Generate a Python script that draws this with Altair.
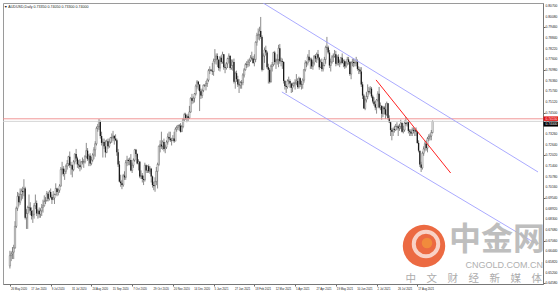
import altair as alt
import pandas as pd

# ---------------- data ----------------
x_labels = ["26 May 2020", "17 Jun 2020", "9 Jul 2020", "31 Jul 2020", "24 Aug 2020",
            "15 Sep 2020", "7 Oct 2020", "29 Oct 2020", "20 Nov 2020", "14 Dec 2020",
            "5 Jan 2021", "27 Jan 2021", "18 Feb 2021", "12 Mar 2021", "5 Apr 2021",
            "27 Apr 2021", "19 May 2021", "10 Jun 2021", "2 Jul 2021", "26 Jul 2021",
            "17 Aug 2021"]
bars_per_label = 16

price_ticks = [0.8070, 0.8008, 0.7946, 0.7884, 0.7822, 0.7760, 0.7698, 0.7636, 0.7574,
               0.7512, 0.7450, 0.7388, 0.7326, 0.7264, 0.7202, 0.7140, 0.7078, 0.7016,
               0.6954, 0.6892, 0.6830, 0.6768, 0.6706, 0.6644, 0.6582, 0.6520, 0.6458]

first_open = 0.6560
closes = [
    0.6620, 0.6630, 0.6640, 0.6665,
    0.6790, 0.6895, 0.6965, 0.6930, 0.6975,
    0.6995, 0.6990, 0.7010, 0.6840, 0.6865,
    0.6900, 0.6900, 0.6880, 0.6850, 0.6860,
    0.6910, 0.6925, 0.6865, 0.6880, 0.6860,
    0.6880, 0.6900, 0.6910, 0.6935, 0.6940,
    0.6980, 0.6950, 0.6990, 0.6960, 0.6945,
    0.6955, 0.6975, 0.7010, 0.6990, 0.7000,
    0.7025, 0.7120, 0.7125, 0.7095, 0.7110,
    0.7140, 0.7155, 0.7195, 0.7145, 0.7145,
    0.7120, 0.7165, 0.7210, 0.7185, 0.7150,
    0.7145, 0.7135, 0.7165, 0.7165, 0.7165,
    0.7195, 0.7230, 0.7180, 0.7200, 0.7155,
    0.7175, 0.7205, 0.7235, 0.7270, 0.7360,
    0.7370, 0.7400, 0.7315, 0.7275, 0.7280,
    0.7255, 0.7220, 0.7285, 0.7255, 0.7280,
    0.7305, 0.7305, 0.7315, 0.7300, 0.7290,
    0.7220, 0.7150, 0.7050, 0.7040, 0.7030,
    0.7085, 0.7075, 0.7160, 0.7175, 0.7170,
    0.7175, 0.7115, 0.7145, 0.7175, 0.7235,
    0.7210, 0.7155, 0.7165, 0.7080, 0.7085,
    0.7065, 0.7060, 0.7145, 0.7115, 0.7140,
    0.7110, 0.7125, 0.7080, 0.7030, 0.7025,
    0.7050, 0.7110, 0.7150, 0.7255, 0.7265,
    0.7255, 0.7280, 0.7240, 0.7250, 0.7280,
    0.7310, 0.7300, 0.7290, 0.7290, 0.7300,
    0.7285, 0.7355, 0.7365, 0.7375, 0.7375,
    0.7340, 0.7370, 0.7410, 0.7440, 0.7420,
    0.7430, 0.7420, 0.7455, 0.7535, 0.7520,
    0.7535, 0.7560, 0.7605, 0.7630, 0.7615,
    0.7575, 0.7550, 0.7580, 0.7610, 0.7610,
    0.7620, 0.7640, 0.7695, 0.7700, 0.7695,
    0.7690, 0.7750, 0.7760, 0.7780, 0.7760,
    0.7710, 0.7770, 0.7745, 0.7790, 0.7715,
    0.7710, 0.7735, 0.7765, 0.7780, 0.7710,
    0.7725, 0.7745, 0.7630, 0.7680, 0.7645,
    0.7615, 0.7610, 0.7625, 0.7625, 0.7670,
    0.7700, 0.7730, 0.7730, 0.7745, 0.7755,
    0.7770, 0.7765, 0.7740, 0.7760, 0.7860,
    0.7900, 0.7905, 0.7925, 0.7890, 0.7700,
    0.7780, 0.7815, 0.7800, 0.7715, 0.7700,
    0.7630, 0.7720, 0.7730, 0.7800, 0.7745,
    0.7755, 0.7760, 0.7825, 0.7750, 0.7750,
    0.7745, 0.7635, 0.7605, 0.7600, 0.7635,
    0.7635, 0.7620, 0.7595, 0.7610, 0.7620,
    0.7625, 0.7635, 0.7600, 0.7650, 0.7615,
    0.7615, 0.7640, 0.7700, 0.7740, 0.7740,
    0.7775, 0.7755, 0.7760, 0.7720, 0.7740,
    0.7780, 0.7765, 0.7790, 0.7770, 0.7715,
    0.7745, 0.7705, 0.7725, 0.7760, 0.7830,
    0.7830, 0.7800, 0.7725, 0.7745, 0.7775,
    0.7780, 0.7790, 0.7735, 0.7775, 0.7740,
    0.7745, 0.7770, 0.7740, 0.7750, 0.7720,
    0.7740, 0.7760, 0.7745, 0.7675, 0.7740,
    0.7745, 0.7740, 0.7740, 0.7745, 0.7705,
    0.7700, 0.7690, 0.7615, 0.7550, 0.7475,
    0.7525, 0.7545, 0.7575, 0.7570, 0.7590,
    0.7545, 0.7515, 0.7500, 0.7480, 0.7525,
    0.7560, 0.7480, 0.7490, 0.7445, 0.7480,
    0.7470, 0.7440, 0.7505, 0.7420, 0.7395,
    0.7350, 0.7340, 0.7355, 0.7350, 0.7370,
    0.7370, 0.7360, 0.7370, 0.7390, 0.7340,
    0.7350, 0.7390, 0.7385, 0.7395, 0.7345,
    0.7340, 0.7330, 0.7350, 0.7345, 0.7350,
    0.7340, 0.7275, 0.7230, 0.7150, 0.7130,
    0.7215, 0.7240, 0.7270, 0.7245, 0.7300,
    0.7310, 0.7315, 0.7335, 0.7400,
]
highs = [
    0.6648, 0.6645, 0.6670, 0.6683,
    0.6820, 0.6905, 0.6990, 0.6985, 0.7010,
    0.7010, 0.7020, 0.7064, 0.7020, 0.6890,
    0.6910, 0.6975, 0.6930, 0.6900, 0.6885,
    0.6925, 0.6975, 0.6940, 0.6890, 0.6900,
    0.6895, 0.6920, 0.6945, 0.6970, 0.6960,
    0.6995, 0.6990, 0.7000, 0.7010, 0.6975,
    0.6995, 0.6980, 0.7040, 0.7015, 0.7010,
    0.7035, 0.7135, 0.7165, 0.7140, 0.7125,
    0.7150, 0.7175, 0.7200, 0.7225, 0.7165,
    0.7150, 0.7175, 0.7215, 0.7240, 0.7195,
    0.7175, 0.7180, 0.7170, 0.7190, 0.7180,
    0.7205, 0.7275, 0.7245, 0.7210, 0.7215,
    0.7195, 0.7215, 0.7250, 0.7285, 0.7370,
    0.7385, 0.7414, 0.7405, 0.7340, 0.7300,
    0.7300, 0.7290, 0.7295, 0.7300, 0.7300,
    0.7310, 0.7330, 0.7345, 0.7320, 0.7325,
    0.7300, 0.7240, 0.7170, 0.7090, 0.7060,
    0.7095, 0.7110, 0.7175, 0.7200, 0.7185,
    0.7190, 0.7210, 0.7160, 0.7185, 0.7240,
    0.7240, 0.7215, 0.7180, 0.7170, 0.7115,
    0.7100, 0.7085, 0.7160, 0.7150, 0.7145,
    0.7150, 0.7140, 0.7130, 0.7085, 0.7050,
    0.7075, 0.7135, 0.7160, 0.7260, 0.7290,
    0.7340, 0.7290, 0.7300, 0.7265, 0.7290,
    0.7330, 0.7340, 0.7340, 0.7305, 0.7320,
    0.7340, 0.7365, 0.7375, 0.7380, 0.7385,
    0.7390, 0.7380, 0.7420, 0.7450, 0.7450,
    0.7440, 0.7445, 0.7490, 0.7540, 0.7560,
    0.7545, 0.7565, 0.7615, 0.7640, 0.7635,
    0.7600, 0.7590, 0.7590, 0.7615, 0.7615,
    0.7635, 0.7650, 0.7705, 0.7720, 0.7705,
    0.7740, 0.7765, 0.7820, 0.7795, 0.7795,
    0.7745, 0.7780, 0.7785, 0.7805, 0.7790,
    0.7730, 0.7745, 0.7770, 0.7795, 0.7785,
    0.7760, 0.7760, 0.7765, 0.7690, 0.7695,
    0.7665, 0.7645, 0.7635, 0.7640, 0.7680,
    0.7710, 0.7740, 0.7750, 0.7760, 0.7765,
    0.7785, 0.7805, 0.7780, 0.7790, 0.7865,
    0.7915, 0.7940, 0.7950, 0.8007, 0.7900,
    0.7795, 0.7830, 0.7840, 0.7810, 0.7735,
    0.7710, 0.7730, 0.7745, 0.7805, 0.7810,
    0.7765, 0.7790, 0.7845, 0.7850, 0.7770,
    0.7765, 0.7750, 0.7640, 0.7615, 0.7645,
    0.7660, 0.7645, 0.7625, 0.7625, 0.7630,
    0.7645, 0.7675, 0.7650, 0.7660, 0.7655,
    0.7635, 0.7650, 0.7705, 0.7755, 0.7750,
    0.7790, 0.7815, 0.7770, 0.7770, 0.7755,
    0.7785, 0.7790, 0.7800, 0.7815, 0.7775,
    0.7760, 0.7765, 0.7740, 0.7775, 0.7840,
    0.7891, 0.7840, 0.7815, 0.7765, 0.7785,
    0.7795, 0.7815, 0.7810, 0.7785, 0.7790,
    0.7760, 0.7775, 0.7795, 0.7760, 0.7760,
    0.7750, 0.7775, 0.7775, 0.7750, 0.7750,
    0.7765, 0.7765, 0.7760, 0.7775, 0.7760,
    0.7720, 0.7715, 0.7715, 0.7630, 0.7560,
    0.7535, 0.7570, 0.7615, 0.7600, 0.7605,
    0.7600, 0.7555, 0.7540, 0.7520, 0.7530,
    0.7575, 0.7600, 0.7510, 0.7495, 0.7490,
    0.7490, 0.7505, 0.7515, 0.7505, 0.7435,
    0.7400, 0.7360, 0.7365, 0.7375, 0.7385,
    0.7395, 0.7380, 0.7385, 0.7410, 0.7395,
    0.7375, 0.7405, 0.7425, 0.7400, 0.7405,
    0.7355, 0.7355, 0.7365, 0.7365, 0.7360,
    0.7365, 0.7345, 0.7290, 0.7230, 0.7165,
    0.7225, 0.7255, 0.7285, 0.7290, 0.7310,
    0.7325, 0.7330, 0.7350, 0.7405,
]
lows = [
    0.6545, 0.6588, 0.6600, 0.6600,
    0.6660, 0.6780, 0.6880, 0.6905, 0.6915,
    0.6940, 0.6950, 0.6965, 0.6830, 0.6775,
    0.6775, 0.6870, 0.6855, 0.6830, 0.6810,
    0.6835, 0.6890, 0.6850, 0.6835, 0.6840,
    0.6840, 0.6850, 0.6870, 0.6905, 0.6920,
    0.6935, 0.6935, 0.6940, 0.6955, 0.6920,
    0.6945, 0.6920, 0.6970, 0.6965, 0.6970,
    0.6985, 0.7020, 0.7090, 0.7080, 0.7060,
    0.7095, 0.7120, 0.7140, 0.7130, 0.7090,
    0.7075, 0.7110, 0.7150, 0.7170, 0.7130,
    0.7125, 0.7110, 0.7120, 0.7150, 0.7130,
    0.7155, 0.7185, 0.7170, 0.7140, 0.7140,
    0.7145, 0.7165, 0.7180, 0.7195, 0.7260,
    0.7340, 0.7350, 0.7300, 0.7260, 0.7190,
    0.7240, 0.7190, 0.7215, 0.7240, 0.7245,
    0.7270, 0.7275, 0.7285, 0.7265, 0.7285,
    0.7200, 0.7135, 0.7045, 0.7020, 0.7006,
    0.7020, 0.7060, 0.7060, 0.7140, 0.7145,
    0.7145, 0.7110, 0.7100, 0.7130, 0.7165,
    0.7195, 0.7150, 0.7115, 0.7070, 0.7065,
    0.7045, 0.7030, 0.7050, 0.7100, 0.7100,
    0.7100, 0.7095, 0.7045, 0.7015, 0.7000,
    0.6991, 0.7030, 0.7010, 0.7140, 0.7220,
    0.7240, 0.7235, 0.7225, 0.7215, 0.7240,
    0.7265, 0.7290, 0.7280, 0.7260, 0.7285,
    0.7275, 0.7290, 0.7340, 0.7350, 0.7345,
    0.7335, 0.7340, 0.7360, 0.7400, 0.7410,
    0.7395, 0.7400, 0.7415, 0.7450, 0.7500,
    0.7505, 0.7510, 0.7550, 0.7590, 0.7580,
    0.7460, 0.7530, 0.7535, 0.7570, 0.7600,
    0.7580, 0.7600, 0.7630, 0.7675, 0.7690,
    0.7670, 0.7665, 0.7735, 0.7730, 0.7715,
    0.7695, 0.7690, 0.7735, 0.7735, 0.7700,
    0.7680, 0.7700, 0.7710, 0.7740, 0.7700,
    0.7700, 0.7695, 0.7620, 0.7590, 0.7630,
    0.7600, 0.7565, 0.7590, 0.7590, 0.7610,
    0.7655, 0.7695, 0.7710, 0.7715, 0.7720,
    0.7745, 0.7755, 0.7735, 0.7720, 0.7745,
    0.7840, 0.7875, 0.7870, 0.7880, 0.7690,
    0.7700, 0.7740, 0.7785, 0.7705, 0.7620,
    0.7620, 0.7625, 0.7690, 0.7720, 0.7730,
    0.7705, 0.7730, 0.7715, 0.7735, 0.7720,
    0.7705, 0.7620, 0.7585, 0.7565, 0.7590,
    0.7615, 0.7595, 0.7565, 0.7570, 0.7600,
    0.7585, 0.7610, 0.7590, 0.7590, 0.7600,
    0.7585, 0.7590, 0.7625, 0.7690, 0.7715,
    0.7725, 0.7745, 0.7705, 0.7705, 0.7700,
    0.7725, 0.7745, 0.7740, 0.7755, 0.7700,
    0.7710, 0.7690, 0.7690, 0.7720, 0.7735,
    0.7815, 0.7790, 0.7710, 0.7690, 0.7735,
    0.7745, 0.7770, 0.7720, 0.7725, 0.7725,
    0.7715, 0.7730, 0.7735, 0.7715, 0.7705,
    0.7710, 0.7725, 0.7730, 0.7665, 0.7645,
    0.7720, 0.7715, 0.7720, 0.7720, 0.7695,
    0.7675, 0.7675, 0.7600, 0.7530, 0.7475,
    0.7465, 0.7510, 0.7530, 0.7555, 0.7560,
    0.7535, 0.7505, 0.7490, 0.7465, 0.7445,
    0.7515, 0.7475, 0.7465, 0.7410, 0.7425,
    0.7440, 0.7415, 0.7430, 0.7410, 0.7390,
    0.7315, 0.7290, 0.7315, 0.7335, 0.7345,
    0.7350, 0.7315, 0.7345, 0.7355, 0.7335,
    0.7330, 0.7340, 0.7375, 0.7370, 0.7330,
    0.7315, 0.7315, 0.7315, 0.7330, 0.7315,
    0.7315, 0.7270, 0.7220, 0.7135, 0.7106,
    0.7120, 0.7200, 0.7225, 0.7230, 0.7220,
    0.7285, 0.7290, 0.7290, 0.7330,
]

# drawn objects (bar index, price)
upper_channel_i = [198.9, 414.8]
upper_channel_p = [0.8088, 0.7106]
lower_channel_i = [213.6, 412.5]
lower_channel_p = [0.7571, 0.6693]
red_trend_i = [287.6, 346.2]
red_trend_p = [0.7641, 0.7100]
hline_level = 0.7415
bid_level = 0.7400

title_text = "AUDUSD,Daily  0.73350 0.74050 0.73300 0.74000"

# ---------------- chart ----------------
n = len(closes)
opens = [first_open] + closes[:-1]
df = pd.DataFrame({"i": list(range(n)), "o": opens, "c": closes, "h": highs, "l": lows})
up = df[df["c"] >= df["o"]]
dn = df[df["c"] < df["o"]]

W, H = 540, 281
xs = alt.Scale(domain=[-1.5, 414.8], nice=False, zero=False)
ys = alt.Scale(domain=[0.6455, 0.8088], nice=False, zero=False)

xtick_df = pd.DataFrame({"i": [k * bars_per_label for k in range(len(x_labels))], "lab": x_labels})
ytick_df = pd.DataFrame({"p": price_ticks, "lab": ["%.5f" % v for v in price_ticks]})

xaxis = alt.Axis(values=list(xtick_df["i"]), labels=False, tickSize=2, tickColor="#666",
                 domainColor="#777", grid=False, title=None)
yaxis = alt.Axis(orient="right", values=price_ticks, labels=False, tickSize=2, tickColor="#666",
                 domainColor="#777", grid=False, title=None)

wicks = alt.Chart(df).mark_rule(color="#8c8c8c", strokeWidth=1).encode(
    x=alt.X("i:Q", scale=xs, axis=xaxis),
    y=alt.Y("l:Q", scale=ys, axis=yaxis),
    y2="h:Q",
)
body_up = alt.Chart(up).mark_bar(size=1.3, color="#ffffff", stroke="#444", strokeWidth=0.4).encode(
    x="i:Q", y="o:Q", y2="c:Q")
body_dn = alt.Chart(dn).mark_bar(size=1.3, color="#1a1a1a").encode(
    x="i:Q", y="o:Q", y2="c:Q")

xlabels = alt.Chart(xtick_df).mark_text(
    fontSize=2.8, color="#222", align="left", baseline="middle", dx=1, font="Liberation Sans").encode(
    x="i:Q", y=alt.value(H + 4.5), text="lab:N")
ylabels = alt.Chart(ytick_df).mark_text(
    fontSize=3.3, color="#222", align="left", baseline="middle", font="Liberation Sans").encode(
    x=alt.value(W + 2.5), y="p:Q", text="lab:N")


def seg(iv, pv, color, width):
    d = pd.DataFrame({"i": iv, "p": pv})
    return alt.Chart(d).mark_line(color=color, strokeWidth=width, clip=True).encode(
        x="i:Q", y="p:Q")


upper = seg(upper_channel_i, upper_channel_p, "#a0a0ff", 0.9)
lower = seg(lower_channel_i, lower_channel_p, "#a0a0ff", 0.9)
redtr = seg(red_trend_i, red_trend_p, "#ff2020", 1.0)

hline = alt.Chart(pd.DataFrame({"p": [hline_level]})).mark_rule(color="#f08a8a", strokeWidth=0.9).encode(y="p:Q")
bline = alt.Chart(pd.DataFrame({"p": [bid_level]})).mark_rule(color="#d0d0d0", strokeWidth=0.9).encode(y="p:Q")

box_df = pd.DataFrame({
    "top": [hline_level + 0.0014, bid_level - 0.0002],
    "bot": [hline_level - 0.0012, bid_level - 0.0030],
    "mid": [hline_level + 0.0001, bid_level - 0.0016],
    "lab": ["%.5f" % hline_level, "%.5f" % bid_level],
    "kind": ["line", "bid"],
})
boxes = alt.Chart(box_df).mark_rect().encode(
    x=alt.value(W + 0.5), x2=alt.value(W + 15), y="top:Q", y2="bot:Q",
    color=alt.Color("kind:N", scale=alt.Scale(domain=["line", "bid"], range=["#e01010", "#000000"]), legend=None),
)
box_text = alt.Chart(box_df).mark_text(fontSize=3.3, color="white", align="left", baseline="middle",
                                       font="Liberation Sans").encode(
    x=alt.value(W + 2.5), y="mid:Q", text="lab:N")

title = alt.Chart(pd.DataFrame({"t": ["\u25bc " + title_text]})).mark_text(
    fontSize=3.6, color="#222", align="left", baseline="middle", font="Liberation Sans").encode(
    x=alt.value(1), y=alt.value(4), text="t:N")

# watermark
icon_outer = alt.Chart(pd.DataFrame({"a": [0]})).mark_point(
    shape="circle", filled=True, color="#ea5a2e", opacity=0.9, size=1800).encode(
    x=alt.value(421), y=alt.value(243))
icon_ring = alt.Chart(pd.DataFrame({"a": [0]})).mark_point(
    shape="circle", filled=False, color="#ffffff", strokeWidth=4, size=600).encode(
    x=alt.value(423), y=alt.value(241))
icon_inner = alt.Chart(pd.DataFrame({"a": [0]})).mark_point(
    shape="circle", filled=True, color="#f39a3a", size=110).encode(
    x=alt.value(424), y=alt.value(240))
wm_big = alt.Chart(pd.DataFrame({"t": ["中金网"]})).mark_text(
    fontSize=32, fontWeight="bold", color="#b8b8b8", opacity=0.9, align="right", baseline="middle",
    font="Noto Sans CJK SC").encode(x=alt.value(542), y=alt.value(237), text="t:N")
wm_en = alt.Chart(pd.DataFrame({"t": ["CNGOLD.COM.CN"]})).mark_text(
    fontSize=9, color="#a8a8a8", opacity=0.9, align="right", baseline="middle",
    font="Liberation Sans").encode(x=alt.value(540), y=alt.value(262), text="t:N")
wm_cn = alt.Chart(pd.DataFrame({"t": ["\u3000".join("中文财经新媒体")]})).mark_text(
    fontSize=10.5, color="#a4a4a4", opacity=0.9, align="right", baseline="middle",
    font="Noto Sans CJK SC").encode(x=alt.value(539), y=alt.value(276), text="t:N")

chart = alt.layer(
    wicks, body_up, body_dn, bline, hline, upper, lower, redtr, xlabels, ylabels,
    boxes, box_text, title, icon_outer, icon_ring, icon_inner, wm_big, wm_en, wm_cn,
).properties(
    width=W, height=H,
    autosize=alt.AutoSizeParams(type="none"),
    padding={"left": 3, "top": 3, "right": 15, "bottom": 10},
    background="white",
).configure_view(stroke="#9a9a9a", strokeWidth=1)

chart.save("out.html", embed_options={"renderer": "svg", "actions": False})
